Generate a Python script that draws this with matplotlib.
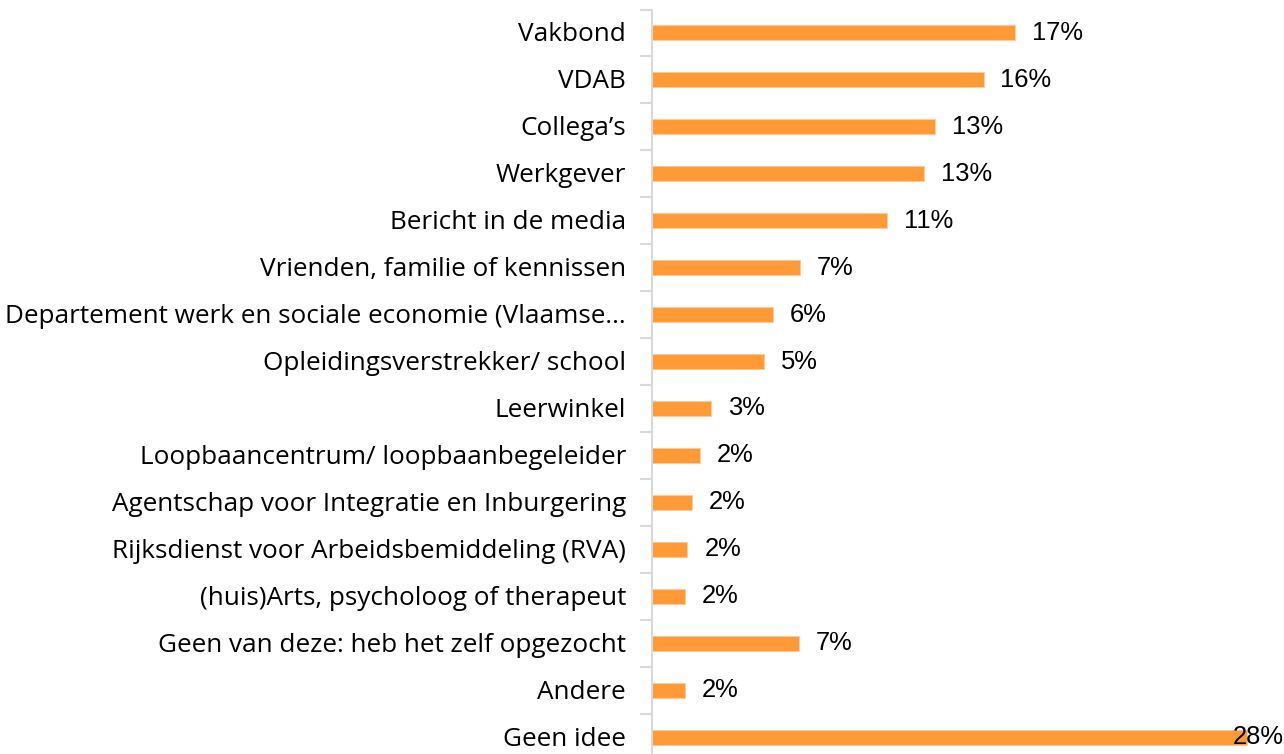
import matplotlib
matplotlib.use("Agg")
import matplotlib.pyplot as plt
import numpy as np

categories = [
    "Vakbond", "VDAB", "Collega\u2019s", "Werkgever", "Bericht in de media",
    "Vrienden, familie of kennissen",
    "Departement werk en sociale economie (Vlaamse\u2026",
    "Opleidingsverstrekker/ school", "Leerwinkel",
    "Loopbaancentrum/ loopbaanbegeleider",
    "Agentschap voor Integratie en Inburgering",
    "Rijksdienst voor Arbeidsbemiddeling (RVA)",
    "(huis)Arts, psycholoog of therapeut",
    "Geen van deze: heb het zelf opgezocht", "Andere", "Geen idee",
]
values = [17.1, 15.6, 13.3, 12.8, 11.06, 6.97, 5.68, 5.27, 2.76, 2.26, 1.87, 1.67, 1.55, 6.9, 1.55, 28.0]

W, H = 1284, 754
fig = plt.figure(figsize=(W / 100, H / 100), dpi=100)
left = 652 / W
top_px, bottom_px = 9.5, 760.5
ax = fig.add_axes([left, (H - bottom_px) / H, 1 - left, (bottom_px - top_px) / H])
ax.set_facecolor("none")

y = np.arange(len(categories))
ax.barh(y, values, height=0.32, color="#FF9A36", edgecolor="#FFC999", linewidth=0.6)
ax.set_xlim(0, (W - 652) / 21.25)
ax.set_ylim(len(categories) - 0.5, -0.5)

for s in ["top", "right", "bottom"]:
    ax.spines[s].set_visible(False)
ax.spines["left"].set_color("#D9D9D9")
ax.spines["left"].set_linewidth(1.5)
ax.set_xticks([])
ax.set_yticks(np.arange(len(categories) + 1) - 0.5)
ax.set_yticklabels([])
ax.tick_params(axis="y", length=9, width=1.5, color="#D9D9D9")

for yi, cat in zip(y, categories):
    ax.annotate(cat, xy=(0, yi), xytext=(-26, -2), textcoords="offset pixels",
                ha="right", va="center", fontsize=18.8, family="Open Sans",
                color="#000000", annotation_clip=False)

xmax = ax.get_xlim()[1]
for yi, v in zip(y, values):
    txt = f"{int(v + 0.5):d}%"
    if v > xmax - 3:
        ax.annotate(txt, xy=(xmax, yi), xytext=(0, 0), textcoords="offset pixels",
                    ha="right", va="center", fontsize=18.4, family="Liberation Sans",
                    color="#000000", annotation_clip=False)
    else:
        ax.annotate(txt, xy=(v, yi), xytext=(17, 0), textcoords="offset pixels",
                    ha="left", va="center", fontsize=18.4, family="Liberation Sans",
                    color="#000000", annotation_clip=False)

fig.savefig("out.png", dpi=100)
